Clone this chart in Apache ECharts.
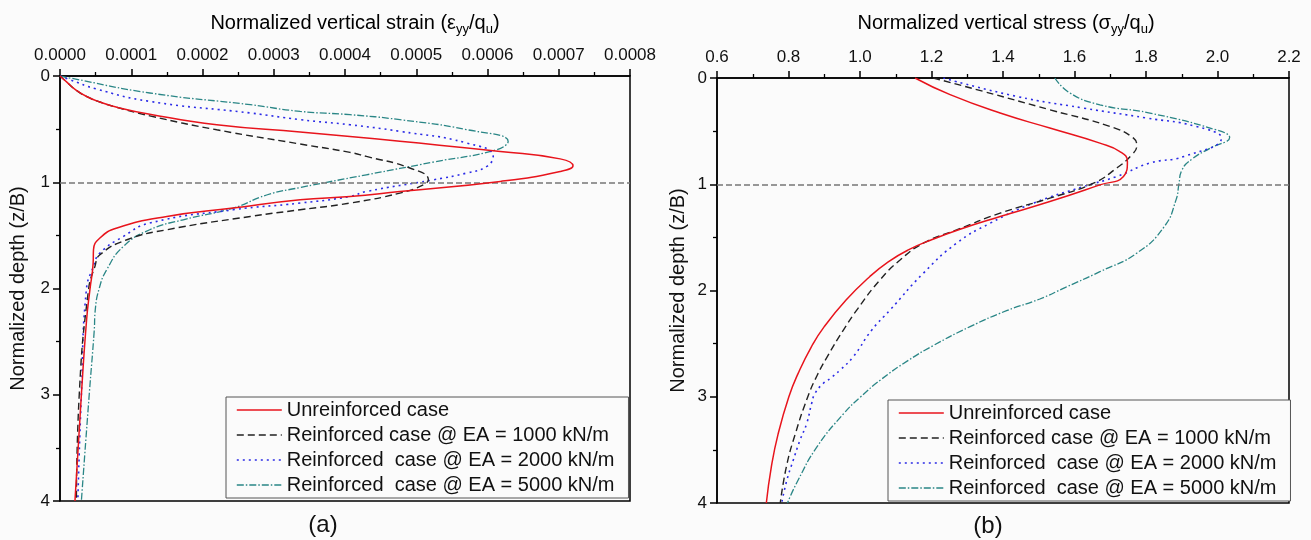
<!DOCTYPE html>
<html>
<head>
<meta charset="utf-8">
<script src="https://cdn.jsdelivr.net/npm/echarts@6/dist/echarts.min.js"></script>
<style>
html,body{margin:0;padding:0;background:#fbfbfb;}
#chart{width:1311px;height:540px;}
</style>
</head>
<body>
<div id="chart"></div>
<script>
// ---------- data (value, normalized depth z/B) ----------
const seriesNames = [
  'Unreinforced case',
  'Reinforced case @ EA = 1000 kN/m',
  'Reinforced  case @ EA = 2000 kN/m',
  'Reinforced  case @ EA = 5000 kN/m'
];
const strainTicks = [0, 0.0008, 0.0001];
const stressTicks = [0.6, 2.2, 0.2];
const depthTicks = [0, 4, 1];

// Panel (a): normalized vertical strain
const strainUnreinforced = [[0,0],[0.00001,0.06],[0.000022,0.13],[0.000038,0.195],[0.000056,0.245],[0.00008,0.295],[0.000126,0.36],[0.00022,0.459],[0.000337,0.527],[0.000407,0.569],[0.000477,0.615],[0.000618,0.71],[0.000702,0.78],[0.00072,0.845],[0.000702,0.898],[0.000618,0.992],[0.000477,1.087],[0.000407,1.134],[0.000337,1.165],[0.000243,1.243],[0.00015,1.322],[0.00008,1.431],[0.000056,1.525],[0.000047,1.636],[0.0000465,1.761],[0.000042,2.01],[0.0000374,2.29],[0.00003,3.0],[0.000021,4.0]];
const strainEA1000 = [[0,0],[0.00001,0.06],[0.000022,0.13],[0.000038,0.195],[0.000056,0.245],[0.00008,0.295],[0.000126,0.375],[0.00022,0.506],[0.000337,0.64],[0.000407,0.719],[0.00043,0.757],[0.000491,0.866],[0.000517,0.976],[0.00051,1.024],[0.000477,1.102],[0.000407,1.196],[0.000337,1.259],[0.000267,1.322],[0.00015,1.447],[0.000094,1.541],[0.000056,1.683],[0.000049,1.793],[0.00004,2.012],[0.000027,3.0],[0.000023,4.0]];
const strainEA2000 = [[0,0],[0.000014,0.035],[0.00005,0.12],[0.000126,0.239],[0.000267,0.348],[0.000337,0.411],[0.000407,0.459],[0.000477,0.521],[0.000571,0.631],[0.000608,0.757],[0.000599,0.851],[0.000571,0.913],[0.000524,0.977],[0.00043,1.087],[0.000407,1.134],[0.000337,1.196],[0.000243,1.259],[0.000126,1.384],[0.000089,1.51],[0.000056,1.667],[0.000047,1.793],[0.000037,2.012],[0.00003,3.0],[0.000025,4.0]];
const strainEA5000 = [[0,0],[0.000014,0.019],[0.000126,0.16],[0.000267,0.27],[0.000337,0.333],[0.000407,0.364],[0.000477,0.411],[0.000571,0.505],[0.000629,0.616],[0.000613,0.694],[0.000524,0.81],[0.00043,0.93],[0.000337,1.05],[0.00029,1.12],[0.000243,1.243],[0.000173,1.353],[0.000126,1.447],[0.000089,1.604],[0.0000655,1.824],[0.000055,2.0],[0.0000495,2.2],[0.000048,2.4],[0.000041,3.0],[0.00003,4.0]];

// Panel (b): normalized vertical stress
const stressUnreinforced = [[1.154,0],[1.252,0.157],[1.392,0.33],[1.531,0.471],[1.671,0.613],[1.727,0.692],[1.748,0.786],[1.737,0.927],[1.671,1.006],[1.531,1.163],[1.392,1.304],[1.28,1.423],[1.202,1.52],[1.135,1.618],[1.079,1.73],[1.027,1.87],[0.961,2.09],[0.9,2.34],[0.864,2.53],[0.827,2.78],[0.801,3.0],[0.771,3.35],[0.752,3.66],[0.738,4.0]];
const stressEA1000 = [[1.205,0],[1.345,0.126],[1.531,0.299],[1.699,0.456],[1.765,0.566],[1.774,0.64],[1.76,0.723],[1.718,0.848],[1.653,0.99],[1.531,1.131],[1.392,1.272],[1.27,1.43],[1.177,1.555],[1.112,1.713],[1.056,1.9],[0.994,2.17],[0.954,2.37],[0.909,2.62],[0.88,2.8],[0.854,3.0],[0.819,3.35],[0.794,3.66],[0.777,4.0]];
const stressEA2000 = [[1.233,0],[1.438,0.173],[1.625,0.283],[1.802,0.377],[1.94,0.456],[2.011,0.566],[1.906,0.739],[1.811,0.8],[1.718,0.927],[1.625,1.022],[1.485,1.178],[1.364,1.367],[1.27,1.555],[1.177,1.838],[1.084,2.184],[1.033,2.372],[0.981,2.624],[0.944,2.75],[0.916,2.83],[0.897,2.875],[0.874,2.97],[0.865,3.06],[0.851,3.25],[0.832,3.41],[0.813,3.6],[0.795,3.79],[0.781,4.0]];
const stressEA5000 = [[1.545,0],[1.587,0.141],[1.671,0.252],[1.811,0.33],[1.995,0.487],[2.034,0.56],[1.98,0.66],[1.93,0.76],[1.9,0.87],[1.892,1.0],[1.884,1.147],[1.851,1.399],[1.774,1.649],[1.671,1.823],[1.575,1.97],[1.503,2.08],[1.41,2.19],[1.308,2.34],[1.204,2.52],[1.134,2.66],[1.058,2.84],[1.002,3.0],[0.954,3.16],[0.88,3.47],[0.826,3.79],[0.797,4.0]];

const referenceDepth = 1;

// ---------- styling ----------
const FONT = 'Liberation Sans, Arial, sans-serif';
const lineStyles = [
  {color:'#e8141c', width:1.5, type:'solid'},
  {color:'#222222', width:1.4, type:[7,4]},
  {color:'#2b2be6', width:1.6, type:[2,4]},
  {color:'#2a8686', width:1.3, type:[7,2,1.5,2]}
];

function xAxisCfg(grid, ticks, decimals){
  return {
    gridIndex:grid, type:'value', position:'top',
    min:ticks[0], max:ticks[1], interval:ticks[2],
    axisLine:{show:true, onZero:false, lineStyle:{color:'#000', width:1.5}},
    axisTick:{show:true, length:7, lineStyle:{color:'#000', width:1.5}},
    minorTick:{show:true, splitNumber:2, length:4, lineStyle:{color:'#000', width:1.3}},
    axisLabel:{formatter:v=>v.toFixed(decimals), fontSize:17, color:'#111', margin:12, fontFamily:FONT},
    splitLine:{show:false}, minorSplitLine:{show:false}
  };
}
function yAxisCfg(grid, gap){
  return {
    gridIndex:grid, type:'value', inverse:true,
    min:depthTicks[0], max:depthTicks[1], interval:depthTicks[2],
    name:'Normalized depth (z/B)', nameLocation:'middle', nameGap:gap,
    nameTextStyle:{fontSize:20, color:'#111', fontFamily:FONT},
    axisLine:{show:true, onZero:false, lineStyle:{color:'#000', width:1.5}},
    axisTick:{show:true, length:7, lineStyle:{color:'#000', width:1.5}},
    minorTick:{show:true, splitNumber:2, length:4, lineStyle:{color:'#000', width:1.3}},
    axisLabel:{fontSize:17, color:'#111', margin:10, fontFamily:FONT},
    splitLine:{show:false}
  };
}
function mkSeries(i, data, gi){
  const s = {
    name:seriesNames[i], type:'line', xAxisIndex:gi, yAxisIndex:gi,
    data:data, symbol:'none', showSymbol:false, smooth:0.5,
    lineStyle:lineStyles[i], itemStyle:{color:lineStyles[i].color},
    z: 3 + (3 - i)
  };
  if(i===0){
    s.markLine = {silent:true, symbol:['none','none'], label:{show:false},
      lineStyle:{color:'#777', type:[6,3], width:1.5},
      data:[{yAxis:referenceDepth}]};
  }
  return s;
}
function legendCfg(left, top){
  return {
    orient:'vertical', left:left, top:top, itemWidth:45, itemHeight:14, itemGap:5,
    padding:[3,14,3,10], borderColor:'#555', borderWidth:1, backgroundColor:'#fbfbfb',
    itemStyle:{opacity:0},
    lineStyle:{width:'inherit'},
    textStyle:{fontSize:20, color:'#111', fontFamily:FONT},
    data:seriesNames, selectedMode:false
  };
}
const rich = {
  a:{fontSize:20, fontFamily:FONT, color:'#111', lineHeight:26, verticalAlign:'middle'},
  s:{fontSize:13, fontFamily:FONT, color:'#111', lineHeight:13, verticalAlign:'bottom'}
};

const chart = echarts.init(document.getElementById('chart'), null, {renderer:'canvas'});
chart.setOption({
  backgroundColor:'#fbfbfb',
  animation:false,
  grid:[
    {left:60, top:76, width:570, height:425, show:true, borderColor:'#000', borderWidth:1.5, backgroundColor:'transparent'},
    {left:717, top:78, width:572, height:425, show:true, borderColor:'#000', borderWidth:1.5, backgroundColor:'transparent'}
  ],
  xAxis:[xAxisCfg(0, strainTicks, 4), xAxisCfg(1, stressTicks, 1)],
  yAxis:[yAxisCfg(0, 32), yAxisCfg(1, 29)],
  legend:[legendCfg(226, 397), legendCfg(888, 400)],
  series:[
    mkSeries(0, strainUnreinforced, 0),
    mkSeries(1, strainEA1000, 0),
    mkSeries(2, strainEA2000, 0),
    mkSeries(3, strainEA5000, 0),
    mkSeries(0, stressUnreinforced, 1),
    mkSeries(1, stressEA1000, 1),
    mkSeries(2, stressEA2000, 1),
    mkSeries(3, stressEA5000, 1)
  ],
  graphic:[
    {type:'text', x:355, y:23, style:{text:'{a|Normalized vertical strain (ε}{s|yy}{a|/q}{s|u}{a|)}', rich:rich, align:'center', verticalAlign:'middle'}},
    {type:'text', x:1006, y:23, style:{text:'{a|Normalized vertical stress (σ}{s|yy}{a|/q}{s|u}{a|)}', rich:rich, align:'center', verticalAlign:'middle'}},
    {type:'text', x:323, y:525, style:{text:'(a)', fontSize:24, fontFamily:FONT, fill:'#111', align:'center', verticalAlign:'middle'}},
    {type:'text', x:988, y:526, style:{text:'(b)', fontSize:24, fontFamily:FONT, fill:'#111', align:'center', verticalAlign:'middle'}}
  ]
});
</script>
</body>
</html>
